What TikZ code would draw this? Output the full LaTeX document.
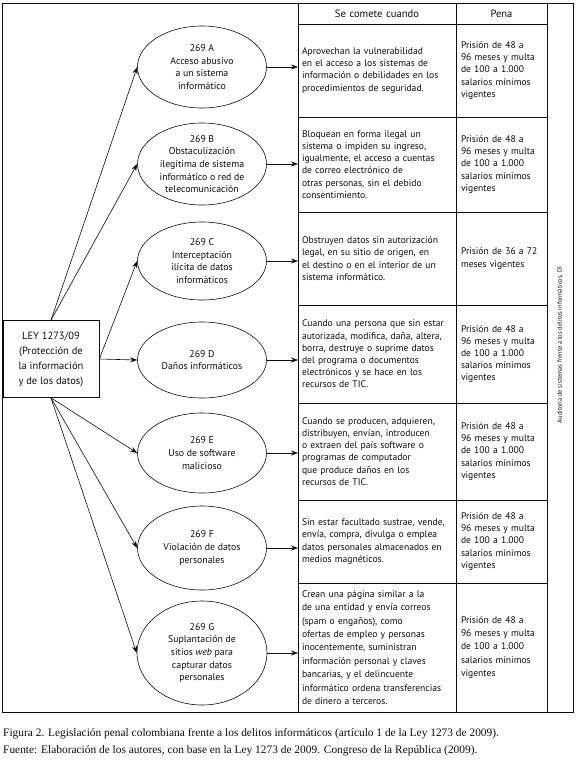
\documentclass[tikz,border=0pt]{standalone}
\usepackage{fontspec}
\setmainfont{PT Sans}
\newfontfamily\piefont{Liberation Serif}
\usetikzlibrary{arrows.meta,positioning,shapes.geometric}
\definecolor{Ink}{RGB}{12,12,12}
\newcommand{\penamulta}{Prisión de 48 a\\96 meses y multa\\de 100 a 1.000\\salarios mínimos\\vigentes}
\tikzset{
  delito/.style={ellipse, draw=Ink, line width=0.6pt, inner sep=0pt, minimum width=129pt,
    minimum height=80pt, align=center, text=Ink, font=\fontsize{9.8}{12.6}\selectfont},
  ley/.style={draw=Ink, line width=0.7pt, minimum width=96pt, minimum height=77pt, inner sep=2pt,
    align=center, text=Ink, font=\fontsize{10.5}{15}\selectfont},
  celda/.style={draw=Ink, line width=0.6pt, outer sep=0pt, anchor=north west, inner xsep=4pt,
    inner ysep=0pt, text width=150pt, align=left, text=Ink, font=\fontsize{9.6}{12.2}\selectfont},
  penacelda/.style={celda, inner xsep=5pt, text width=81pt},
  cabeza/.style={minimum height=21pt, align=center, font=\fontsize{10.6}{12}\selectfont},
  flecha/.style={-{Stealth[length=7pt,width=5pt]}, draw=Ink, line width=0.6pt},
}

\begin{document}
\begin{tikzpicture}[x=1pt, y=-1pt]
  \useasboundingbox (0,0) rectangle (577,761);
  \draw[Ink, line width=0.7pt] (2,3) rectangle (573,712);

  % tabla
  \node[celda, cabeza] (hc) at (298,3) {Se comete cuando};
  \node[penacelda, cabeza, right=0pt of hc] (hp) {Pena};
  \node[celda, minimum height=93pt, below=0pt of hc] (ca) {Aprovechan la vulnerabilidad\\en el acceso a los sistemas de\\información o debilidades en los\\procedimientos de seguridad.};
  \node[celda, minimum height=95pt, below=0pt of ca] (cb) {Bloquean en forma ilegal un\\sistema o impiden su ingreso,\\igualmente, el acceso a cuentas\\de correo electrónico de\\otras personas, sin el debido\\consentimiento.};
  \node[celda, minimum height=93pt, below=0pt of cb] (cc) {Obstruyen datos sin autorización\\legal, en su sitio de origen, en\\el destino o en el interior de un\\sistema informático.};
  \node[celda, minimum height=98pt, below=0pt of cc] (cd) {Cuando una persona que sin estar\\autorizada, modifica, daña, altera,\\borra, destruye o suprime datos\\del programa o documentos\\electrónicos y se hace en los\\recursos de TIC.};
  \node[celda, minimum height=97pt, below=0pt of cd] (ce) {Cuando se producen, adquieren,\\distribuyen, envían, introducen\\o extraen del país software o\\programas de computador\\que produce daños en los\\recursos de TIC.};
  \node[celda, minimum height=83pt, below=0pt of ce] (cf) {Sin estar facultado sustrae, vende,\\envía, compra, divulga o emplea\\datos personales almacenados en\\medios magnéticos.};
  \node[celda, minimum height=129pt, below=0pt of cf, font=\fontsize{9.6}{13.4}\selectfont] (cg) {Crean una página similar a la\\de una entidad y envía correos\\(spam o engaños), como\\ofertas de empleo y personas\\inocentemente, suministran\\información personal y claves\\bancarias, y el delincuente\\informático ordena transferencias\\de dinero a terceros.};

  \node[penacelda, minimum height=93pt, right=0pt of ca] (pa) {\penamulta};
  \node[penacelda, minimum height=95pt, right=0pt of cb] (pb) {\penamulta};
  \node[penacelda, minimum height=93pt, right=0pt of cc] (pc) {Prisión de 36 a 72\\meses vigentes};
  \node[penacelda, minimum height=98pt, right=0pt of cd] (pd) {\penamulta};
  \node[penacelda, minimum height=97pt, right=0pt of ce] (pe) {\penamulta};
  \node[penacelda, minimum height=83pt, right=0pt of cf] (pf) {\penamulta};
  \node[penacelda, minimum height=129pt, right=0pt of cg, font=\fontsize{9.6}{13.4}\selectfont] (pg) {\penamulta};

  \node[rotate=90, text=Ink, font=\fontsize{6.4}{8}\selectfont] (di) at (560,345) {Auditoría de sistemas frente a los delitos informáticos, DI};

  % delitos
  \node[delito, minimum height=82pt] (a) at (202,67) {269 A\\Acceso abusivo\\a un sistema\\informático};
  \node[delito, minimum height=82pt] (b) at (202,164) {269 B\\Obstaculización\\ilegítima de sistema\\informático o red de\\telecomunicación};
  \node[delito, minimum height=78pt] (c) at (202,261) {269 C\\Interceptación\\ilícita de datos\\informáticos};
  \node[delito, minimum height=76pt] (d) at (202,360) {269 D\\Daños informáticos};
  \node[delito] (e) at (202,453) {269 E\\Uso de software\\malicioso};
  \node[delito, minimum height=84pt] (f) at (202,548) {269 F\\Violación de datos\\personales};
  \node[delito, minimum height=104pt, minimum width=130pt] (g) at (202,653) {269 G\\Suplantación de\\sitios \emph{web} para\\capturar datos\\personales};

  \node[ley] (ley) at (51,359) {LEY 1273/09\\(Protección de\\la información\\y de los datos)};

  \draw[flecha] (ley.north) -- (a.west);
  \draw[flecha] (ley.north) -- (b.west);
  \draw[flecha] (ley.east) -- (c.west);
  \draw[flecha] (ley.east) -- (d.west);
  \draw[flecha] (ley.south) -- (e.west);
  \draw[flecha] (ley.south) -- (f.west);
  \draw[flecha] (ley.south) -- (g.west);

  \foreach \e/\c in {a/ca,b/cb,c/cc,d/cd,e/ce,f/cf,g/cg}
    \draw[flecha] (\e.east) -- (\e.east -| \c.west);

  % pie
  \node[anchor=west, inner xsep=0pt, text=Ink, font=\piefont\fontsize{11.4}{12}\selectfont] (fig) at (3,734) {Figura 2. Legislación penal colombiana frente a los delitos informáticos (artículo 1 de la Ley 1273 de 2009).};
  \node[anchor=west, inner xsep=0pt, text=Ink, font=\piefont\fontsize{11.4}{12}\selectfont] (fuente) at (3,751) {Fuente: Elaboración de los autores, con base en la Ley 1273 de 2009. Congreso de la República (2009).};
\end{tikzpicture}
\end{document}
